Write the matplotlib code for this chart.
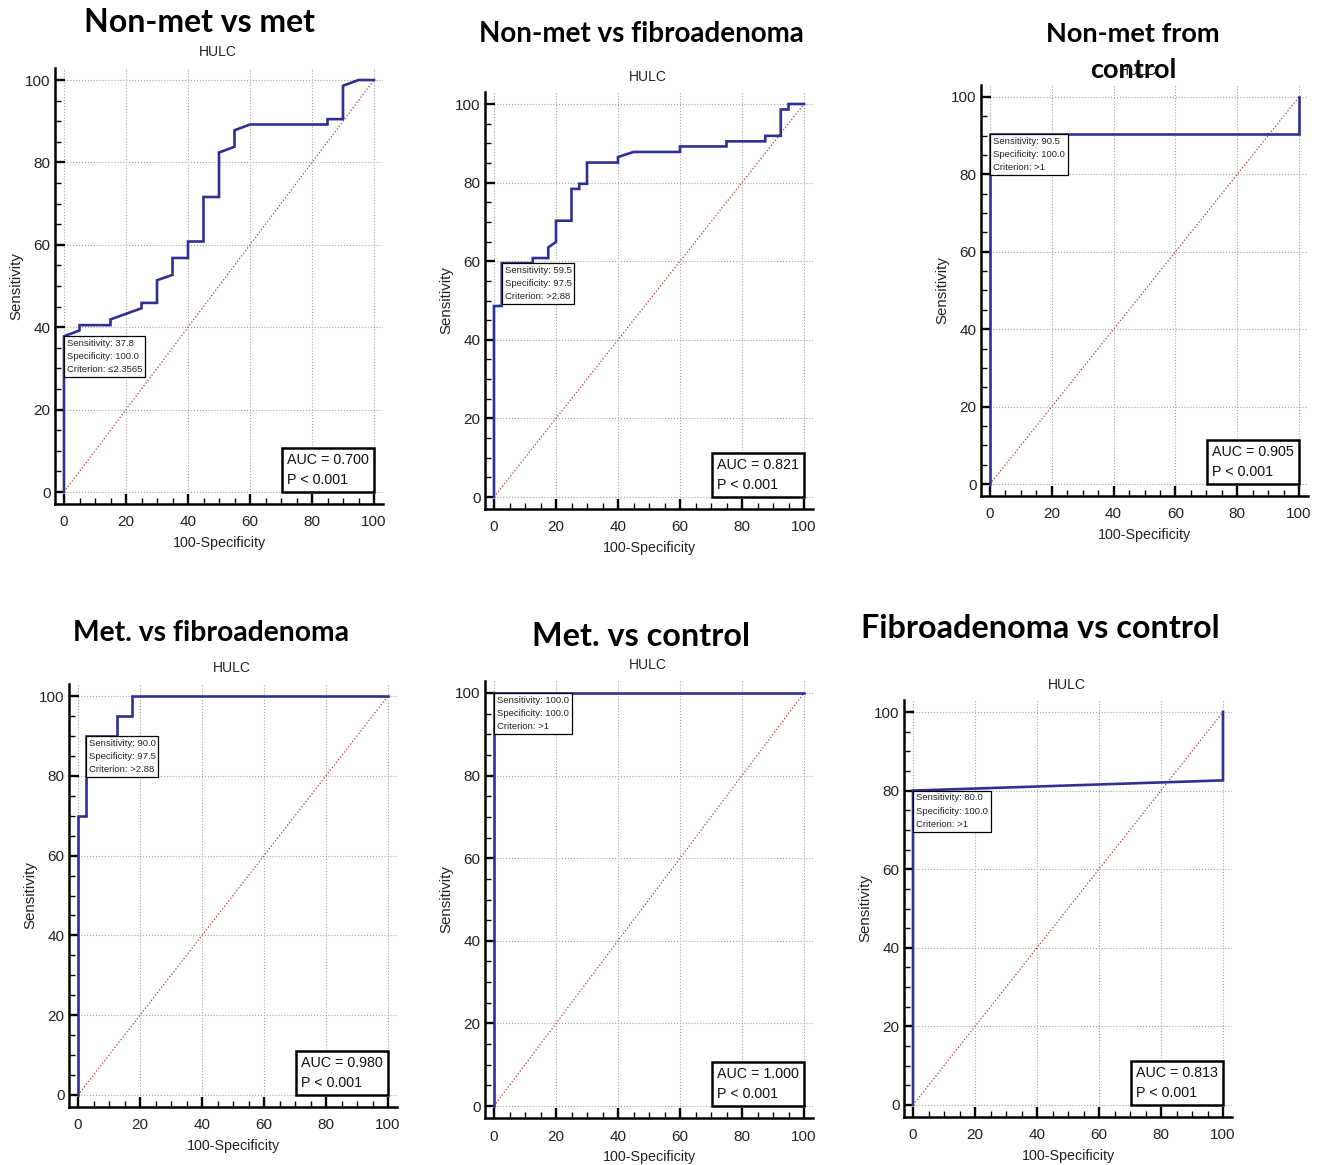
import matplotlib
matplotlib.use("Agg")
import matplotlib.pyplot as plt
from matplotlib.ticker import MultipleLocator
from matplotlib.offsetbox import AnchoredText
from matplotlib import font_manager

installed = {f.name for f in font_manager.fontManager.ttflist}
narrow = 'Liberation Sans Narrow' if 'Liberation Sans Narrow' in installed else 'Liberation Sans'
plain = 'Liberation Sans'
titlefont = 'Lato' if 'Lato' in installed else 'DejaVu Sans'

# ---- data (100-specificity, sensitivity) ----
titles = ["Non-met vs met", "Non-met vs fibroadenoma", "Non-met from\ncontrol",
          "Met. vs fibroadenoma", "Met. vs control", "Fibroadenoma vs control"]

fpr_nm_met = [0, 0, 5, 5, 15, 15, 25, 25, 30, 30, 35, 35, 40, 40, 45, 45, 50, 50, 55, 55, 60, 85, 85, 90, 90, 95, 100]
tpr_nm_met = [0, 37.8, 39.2, 40.5, 40.5, 41.9, 44.6, 45.9, 45.9, 51.4, 52.7, 56.8, 56.8, 60.8, 60.8, 71.6, 71.6,
              82.4, 83.8, 87.8, 89.2, 89.2, 90.5, 90.5, 98.6, 100, 100]

fpr_nm_fib = [0, 0, 2.5, 2.5, 12.5, 12.5, 17.5, 17.5, 20, 20, 25, 25, 27.5, 27.5, 30, 30, 40, 40, 45, 60, 60,
              75, 75, 87.5, 87.5, 92.5, 92.5, 95, 95, 100]
tpr_nm_fib = [0, 48.6, 48.6, 59.5, 59.5, 60.8, 60.8, 63.5, 64.9, 70.3, 70.3, 78.4, 78.4, 79.7, 79.7, 85.1, 85.1,
              86.5, 87.8, 87.8, 89.2, 89.2, 90.5, 90.5, 91.9, 91.9, 98.6, 98.6, 100, 100]

fpr_nm_ctl = [0, 0, 100, 100]
tpr_nm_ctl = [0, 90.5, 90.5, 100]

fpr_met_fib = [0, 0, 2.5, 2.5, 12.5, 12.5, 17.5, 17.5, 100]
tpr_met_fib = [0, 70, 70, 90, 90, 95, 95, 100, 100]

fpr_met_ctl = [0, 0, 100]
tpr_met_ctl = [0, 100, 100]

fpr_fib_ctl = [0, 0, 100, 100]
tpr_fib_ctl = [0, 80, 82.6, 100]

sens = [37.8, 59.5, 90.5, 90.0, 100.0, 80.0]
spec = [100.0, 97.5, 100.0, 97.5, 100.0, 100.0]
criterion = ["\u22642.3565", ">2.88", ">1", ">2.88", ">1", ">1"]
auc = [0.700, 0.821, 0.905, 0.980, 1.000, 0.813]

curves = [(fpr_nm_met, tpr_nm_met), (fpr_nm_fib, tpr_nm_fib), (fpr_nm_ctl, tpr_nm_ctl),
          (fpr_met_fib, tpr_met_fib), (fpr_met_ctl, tpr_met_ctl), (fpr_fib_ctl, tpr_fib_ctl)]

# ---- layout (pixels) ----
W, H = 1319, 1165
# pixel position of data 0 and 100 on x and y
frames = [(64, 374, 492, 80), (494, 804, 497, 104), (990, 1299, 484, 97),
          (78, 388, 1095, 696), (494, 804, 1106, 693), (913, 1223, 1105, 712)]
title_pos = [(200, 22, 23), (641, 34, 20), (1133, 52, 19.5), (211, 633, 20.3), (641, 637, 23.3), (1040, 628, 23.3)]
hulc_pos = [(218, 52), (648, 77), (1138, 71), (232, 668), (648, 665), (1067, 685)]

fig = plt.figure(figsize=(W / 100, H / 100), dpi=100)

for i in range(6):
    x0, x100, y0, y100 = frames[i]
    sx = (x100 - x0) / 100
    sy = (y0 - y100) / 100
    left, right = x0 - 3 * sx, x100 + 3 * sx
    top, bottom = y100 - 3 * sy, y0 + 3 * sy
    ax = fig.add_axes([left / W, 1 - bottom / H, (right - left) / W, (bottom - top) / H])
    ax.set_xlim(-3, 103)
    ax.set_ylim(-3, 103)

    ax.plot([0, 100], [0, 100], color='#b8383a', linestyle=':', linewidth=0.9, zorder=2)
    fx, ty = curves[i]
    ax.plot(fx, ty, color='#2e3192', linewidth=1.9, zorder=3, solid_joinstyle='miter')

    ax.xaxis.set_major_locator(MultipleLocator(20))
    ax.yaxis.set_major_locator(MultipleLocator(20))
    ax.xaxis.set_minor_locator(MultipleLocator(5))
    ax.yaxis.set_minor_locator(MultipleLocator(5))
    ax.grid(True, which='major', linestyle=':', color='#a4a4a4', linewidth=0.8, zorder=0)
    ax.set_axisbelow(True)
    for s in ['top', 'right']:
        ax.spines[s].set_visible(False)
    for s in ['left', 'bottom']:
        ax.spines[s].set_linewidth(1.8)
    ax.tick_params(which='major', direction='in', length=7, width=1.7, labelsize=11, colors='black')
    ax.tick_params(which='minor', direction='in', length=4.5, width=1.0)
    ax.tick_params(axis='x', which='major', pad=8)
    ax.tick_params(axis='y', which='major', pad=3)
    for lab in ax.get_xticklabels() + ax.get_yticklabels():
        lab.set_family(narrow)
        lab.set_color('#222222')

    ax.set_xlabel("100-Specificity", fontsize=10.3, family=narrow, color='#222222', labelpad=5)
    ax.set_ylabel("Sensitivity", fontsize=10.8, family=plain, color='#222222', labelpad=1)

    info = AnchoredText("Sensitivity: %.1f\nSpecificity: %.1f\nCriterion: %s" % (sens[i], spec[i], criterion[i]),
                        loc='upper left', bbox_to_anchor=(100 - spec[i], sens[i]),
                        bbox_transform=ax.transData, borderpad=0, pad=0.3, frameon=True,
                        prop=dict(size=6.8, family=[narrow, 'DejaVu Sans'], color='#222222', linespacing=1.6))
    info.patch.set_boxstyle('square,pad=0')
    info.patch.set_linewidth(0.9)
    info.zorder = 5
    ax.add_artist(info)

    aucbox = AnchoredText("AUC = %.3f\nP < 0.001" % auc[i], loc='lower right', bbox_to_anchor=(100, 0),
                          bbox_transform=ax.transData, borderpad=0, pad=0.35, frameon=True,
                          prop=dict(size=10.3, family=narrow, color='#111111', linespacing=1.5))
    aucbox.patch.set_boxstyle('square,pad=0')
    aucbox.patch.set_linewidth(1.8)
    aucbox.zorder = 5
    ax.add_artist(aucbox)

    tx, tyy, tsize = title_pos[i]
    fig.text(tx / W, 1 - tyy / H, titles[i], ha='center', va='center', fontsize=tsize,
             fontweight='bold', family=titlefont, linespacing=1.6)
    hx, hy = hulc_pos[i]
    fig.text(hx / W, 1 - hy / H, "HULC", ha='center', va='center', fontsize=10, family=narrow, color='#222222')

fig.savefig("out.png", dpi=100)
